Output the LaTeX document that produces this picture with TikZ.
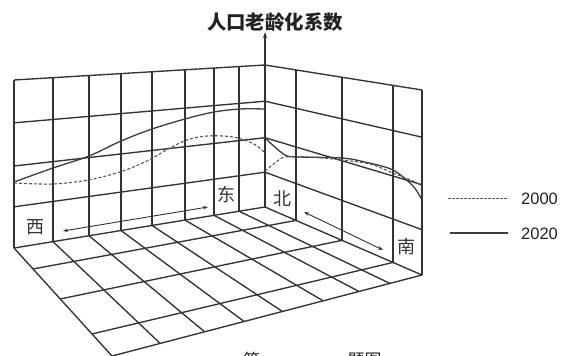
\documentclass[tikz,border=0pt]{standalone}
\usepackage{fontspec}
\setmainfont{Liberation Sans}
\newfontfamily\cjk{Noto Sans CJK SC}
\usetikzlibrary{arrows.meta,calc}
\definecolor{gridc}{HTML}{333333}
\definecolor{curvec}{HTML}{3C3C3C}
\definecolor{dashc}{HTML}{555555}
\definecolor{legc}{HTML}{222222}
\begin{document}
\begin{tikzpicture}[x=1pt,y=-1pt,
  gridline/.style={draw=gridc,line width=1.35pt},
  curve2020/.style={draw=curvec,line width=1.3pt},
  curve2000/.style={draw=dashc,line width=1.1pt,dash pattern=on 3pt off 2pt},
  dirarrow/.style={draw=gridc,line width=0.9pt,{Stealth[length=5pt,width=3.5pt]}-{Stealth[length=5pt,width=3.5pt]}},
  lab/.style={font=\cjk\fontsize{18}{20}\selectfont,inner sep=0pt,text=gridc},
  legtext/.style={font=\fontsize{16.5}{18}\selectfont,inner sep=0pt,anchor=west,text=legc}]
\fill[white] (0,0) rectangle (568,356);
\useasboundingbox (0,0) rectangle (568,356);
% frame corners
\coordinate (TL) at (14,80);
\coordinate (TC) at (265,65);
\coordinate (BL) at (14,248);
\coordinate (BC) at (265,207);
\coordinate (TR) at (422,90);
\coordinate (BR) at (422,275);
\coordinate (FD) at (112,356);
\coordinate (AX) at (265,32);
% back wall (west-east)
\foreach \t in {0,0.1554,0.2988,0.4263,0.5498,0.6813,0.7968,0.8964}
  \draw[gridline] ($(TL)!\t!(TC)$) -- ($(BL)!\t!(BC)$);
\foreach \s in {0,0.255,0.512,0.755,1}
  \draw[gridline] ($(TL)!\s!(BL)$) -- ($(TC)!\s!(BC)$);
% side wall (north-south)
\foreach \t in {0.1975,0.4904,0.8153,1}
  \draw[gridline] ($(TC)!\t!(TR)$) -- ($(BC)!\t!(BR)$);
\foreach \s in {0,0.255,0.512,0.755,1}
  \draw[gridline] ($(TC)!\s!(BC)$) -- ($(TR)!\s!(BR)$);
% floor
\foreach \t in {0,0.1554,0.2988,0.4263,0.5498,0.6813,0.7968,0.8964}
  \draw[gridline] ($(BL)!\t!(BC)$) -- ($(FD)!\t!(BR)$);
\foreach \u/\v in {0.194/0.1975,0.472/0.4904,0.796/0.8153,1/1}
  \draw[gridline] ($(BL)!\u!(FD)$) -- ($(BC)!\v!(BR)$);
% axis
\draw[gridline,-{Stealth[length=6pt,width=4pt]}] (BC) -- (AX);
\node[font=\cjk\bfseries\fontsize{19.4}{21}\selectfont,inner sep=0pt,text=legc] (title) at (275,22) {人口老龄化系数};
% curves on back wall
\draw[curve2020] plot[smooth,tension=0.55] coordinates {(14,182) (53,168) (89,156) (121,141) (152,129) (185,119) (214,112) (240,109) (265,109)};
\draw[curve2000] plot[smooth,tension=0.55] coordinates {(14,183) (53,184) (88,180) (120,172) (147,161) (170,148) (187,140) (207,136) (233,137) (254,144) (265,153)};
% curves on side wall
\draw[curve2020] plot[smooth,tension=0.5] coordinates {(265,138) (285,155) (300,157) (342,158) (365,162) (393,170) (413,186) (422,200)};
\draw[curve2000] plot[smooth,tension=0.5] coordinates {(265,171) (275,163) (285,157) (310,157) (342,160) (370,164) (393,173) (413,181) (422,186)};
% direction labels and arrows
\node[lab] (west) at (36,227) {西};
\node[lab] (east) at (226,195) {东};
\node[lab] (north) at (282,199) {北};
\node[lab] (south) at (406,247) {南};
\coordinate (WA) at (63,231);
\coordinate (EA) at (208,207);
\coordinate (NA) at (304,212);
\coordinate (SA) at (383,250);
\draw[dirarrow] (WA) -- (EA);
\draw[dirarrow] (NA) -- (SA);
% legend
\coordinate (L1a) at (448,198);
\coordinate (L1b) at (507,198);
\coordinate (L2a) at (450,233);
\coordinate (L2b) at (508,233);
\draw[draw=dashc,line width=1pt,dash pattern=on 2.5pt off 1.5pt] (L1a) -- (L1b);
\draw[draw=curvec,line width=1.2pt] (L2a) -- (L2b);
\node[legtext] (y2000) at (521,198.5) {2000};
\node[legtext] (y2020) at (521,233.5) {2020};
% caption (cut off at the bottom, as in the reference)
\node[lab,text=legc,font=\cjk\fontsize{17}{19}\selectfont] (capa) at (251.5,360) {第};
\node[lab,text=legc,font=\cjk\fontsize{17}{19}\selectfont] (capb) at (364.5,360) {题图};
\end{tikzpicture}
\end{document}
